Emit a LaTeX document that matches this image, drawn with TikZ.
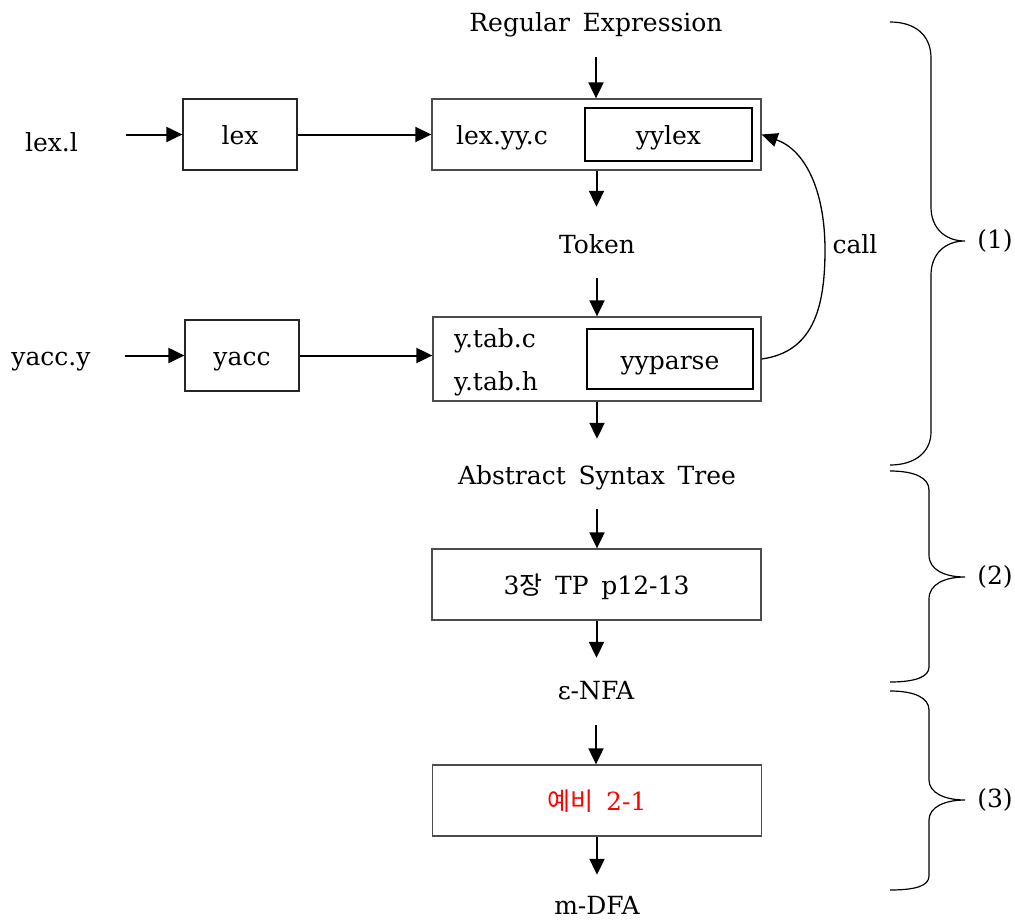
\documentclass[tikz,border=0pt]{standalone}
\usepackage{fontspec}
\setmainfont[WordSpace=1.6]{DejaVu Serif}
\newfontfamily\krfont{Noto Sans CJK KR}
\usetikzlibrary{arrows.meta}
\begin{document}
\begin{tikzpicture}[x=1pt,y=-1pt,
  every node/.style={font=\fontsize{25}{29}\selectfont},
  txt/.style={inner sep=0pt, text height=18pt, text depth=6pt, anchor=base},
  boxtext/.style={text height=20pt, text depth=0pt},
  outerbox/.style={draw=black!70, line width=1.3pt, inner sep=0pt, minimum width=329pt, minimum height=71pt, boxtext},
  innerbox/.style={draw=black, line width=1.1pt, inner sep=0pt, boxtext},
  smallbox/.style={draw=black!85, line width=1.2pt, minimum width=114pt, minimum height=71pt, inner sep=0pt, boxtext},
  arr/.style={line width=2pt, -{Triangle[length=16pt,width=15pt]}},
  brace/.style={line width=1.2pt},
]
\useasboundingbox (0,0) rectangle (1015,919);

% text nodes
\node[txt] (re) at (596,31) {Regular Expression};
\node[txt] (token) at (597,253) {Token};
\node[txt] (ast) at (597,484) {Abstract Syntax Tree};
\node[txt] (eps) at (596,699) {ε-NFA};
\node[txt, text depth=1pt] (mdfa) at (597,914) {m-DFA};
\node[txt] (lexl) at (51.5,151) {lex.l};
\node[txt] (yaccy) at (51,365) {yacc.y};
\node[txt] (call) at (855,253) {call};

% boxes
\node[smallbox] (lex) at (240,134.5) {lex};
\node[smallbox] (yacc) at (242,355.5) {yacc};

\node[outerbox] (lexbox) at (596.5,134.5) {};
\node[innerbox, minimum width=167pt, minimum height=53pt] (yylex) at (668.5,134.5) {yylex};
\node[txt] (lexyyc) at (502,144) {lex.yy.c};

\node[outerbox, minimum width=328pt, minimum height=84pt] (ytab) at (597,359) {};
\node[innerbox, minimum width=166pt, minimum height=60pt] (yyparse) at (670,359) {yyparse};
\node[txt, anchor=base west] (ytabc) at (454,347) {y.tab.c};
\node[txt, anchor=base west] (ytabh) at (454,390) {y.tab.h};

\node[outerbox] (tp) at (596.5,584.5) {3{\krfont 장} TP p12-13};
\node[outerbox] (ye) at (597,800.5) {\color{red}{\krfont 예비} 2-1};

% vertical arrows
\draw[arr, shorten <=20pt] (re.south) -- (re.south |- lexbox.north);
\draw[arr, shorten >=28pt] (lexbox.south) -- (lexbox.south |- token.north);
\draw[arr, shorten <=19pt] (token.south) -- (token.south |- ytab.north);
\draw[arr, shorten >=27pt] (ytab.south) -- (ytab.south |- ast.north);
\draw[arr, shorten <=19pt] (ast.south) -- (ast.south |- tp.north);
\draw[arr, shorten >=23pt] (tp.south) -- (tp.south |- eps.north);
\draw[arr, shorten <=20pt] (eps.south) -- (eps.south |- ye.north);
\draw[arr, shorten >=21pt] (ye.south) -- (ye.south |- mdfa.north);

% horizontal arrows
\draw[arr, shorten <=48pt] (lexl.east |- lex.west) -- (lex.west);
\draw[arr] (lex.east) -- (lex.east -| lexbox.west);
\draw[arr, shorten <=34pt] (yaccy.east |- yacc.west) -- (yacc.west);
\draw[arr] (yacc.east) -- (yacc.east -| ytab.west);

% call curve
\draw[line width=1.3pt, -{Triangle[length=16pt,width=14pt]}] (ytab.east) .. controls (812,352) and (825,310) .. (825,250) .. controls (825,190) and (805,150) .. (lexbox.east);

% braces
\draw[brace] (890,22) .. controls (915,22) and (931,35) .. (931,58) -- (931,207) .. controls (931,228) and (945,241) .. (965,241) .. controls (945,241) and (931,254) .. (931,275) -- (931,432) .. controls (931,452) and (915,465) .. (890,465);
\draw[brace] (890,471) .. controls (915,471) and (929,478) .. (929,490) -- (929,555) .. controls (929,570) and (945,577) .. (965,577) .. controls (945,577) and (929,584) .. (929,599) -- (929,667) .. controls (929,677) and (915,682) .. (890,682);
\draw[brace] (890,691) .. controls (915,691) and (929,698) .. (929,710) -- (929,780) .. controls (929,793) and (945,800) .. (965,800) .. controls (945,800) and (929,807) .. (929,820) -- (929,876) .. controls (929,886) and (915,890) .. (890,890);

\node (b1) at (995,241) {(1)};
\node (b2) at (995,577) {(2)};
\node (b3) at (995,800) {(3)};
\end{tikzpicture}
\end{document}
